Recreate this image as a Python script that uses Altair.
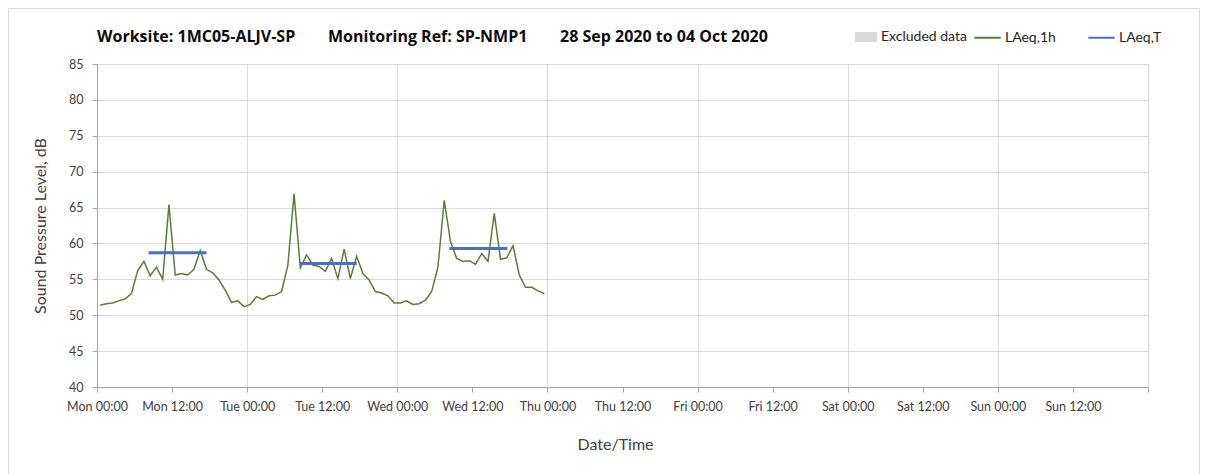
import altair as alt
import pandas as pd

# ---- data ----
laeq_1h_mon = [51.4, 51.6, 51.7, 52.0, 52.3, 53.0, 56.2, 57.5, 55.5, 56.7, 55.0, 65.4,
               55.6, 55.8, 55.6, 56.4, 59.0, 56.4, 55.9, 54.9, 53.5, 51.8, 52.0, 51.2]
laeq_1h_tue = [51.5, 52.6, 52.2, 52.7, 52.8, 53.3, 56.9, 66.9, 56.6, 58.4, 57.0, 56.8,
               56.1, 57.9, 55.1, 59.2, 55.1, 58.2, 55.8, 54.9, 53.3, 53.1, 52.7, 51.7]
laeq_1h_wed = [51.7, 52.0, 51.5, 51.6, 52.1, 53.3, 56.7, 66.0, 60.3, 57.9, 57.5, 57.6,
               57.1, 58.6, 57.5, 64.2, 57.8, 58.0, 59.7, 55.6, 53.9, 53.9, 53.4, 53.0]
first_hour = "2020-09-28T00:30:00"

laeq_t_start = ["2020-09-28T08:15:00", "2020-09-29T08:25:00", "2020-09-30T08:20:00"]
laeq_t_end = ["2020-09-28T17:30:00", "2020-09-29T17:30:00", "2020-09-30T17:35:00"]
laeq_t_values = [58.7, 57.2, 59.3]

y_ticks = [40, 45, 50, 55, 60, 65, 70, 75, 80, 85]
x_start = "2020-09-28T00:00:00"
x_end = "2020-10-05T00:00:00"
series_names = ["LAeq,1h", "LAeq,T"]
series_colors = ["#5a7d3a", "#4472c4"]
excluded_name = ["Excluded data"]
excluded_color = ["#d9d9d9"]

title_parts = ["Worksite: 1MC05-ALJV-SP", "Monitoring Ref: SP-NMP1",
               "28 Sep 2020 to 04 Oct 2020"]

# ---- tables ----
values_1h = laeq_1h_mon + laeq_1h_tue + laeq_1h_wed
times_1h = pd.date_range(first_hour, periods=len(values_1h), freq="h")
df_1h = pd.DataFrame({
    "time": times_1h.strftime("%Y-%m-%dT%H:%M:%S"),
    "value": values_1h,
    "series": series_names[0],
})
df_t = pd.DataFrame({
    "start": laeq_t_start,
    "end": laeq_t_end,
    "value": laeq_t_values,
    "series": series_names[1],
})
df_excl = alt.Data(values=[])

tick_times = pd.date_range(x_start, x_end, freq="12h")
tick_dt = [alt.DateTime(year=t.year, month=t.month, date=t.day, hours=t.hour)
           for t in tick_times]
ts0, ts1 = pd.Timestamp(x_start), pd.Timestamp(x_end)
x_domain = [alt.DateTime(year=ts0.year, month=ts0.month, date=ts0.day, hours=0),
            alt.DateTime(year=ts1.year, month=ts1.month, date=ts1.day, hours=0)]

FONT = "Lato"
W, H = 1051, 323

x_scale = alt.Scale(domain=x_domain)
y_scale = alt.Scale(domain=[40, 85], nice=False, zero=False)

x_axis = alt.Axis(
    values=tick_dt, format="%a %H:%M", title="Date/Time",
    labelExpr="date(datum.value) == 5 ? '' : datum.label",
    gridColor={"condition": {"test": "hours(datum.value) == 0", "value": "#d9d9d9"},
               "value": "rgba(0,0,0,0)"},
    labelAngle=0, labelOverlap=False, labelFlush=False,
)
y_axis = alt.Axis(values=y_ticks, title="Sound Pressure Level, dB", gridColor="#d9d9d9",
                  labelOverlap=False, tickCount=10)

color_scale = alt.Scale(domain=series_names, range=series_colors)

line_1h = alt.Chart(df_1h).mark_line(strokeWidth=1.5).encode(
    x=alt.X("time:T", scale=x_scale, axis=x_axis),
    y=alt.Y("value:Q", scale=y_scale, axis=y_axis),
    color=alt.Color("series:N", scale=color_scale, legend=alt.Legend(
        orient="none", legendX=876, legendY=-41, direction="horizontal", title=None,
        symbolType="stroke", symbolSize=700, symbolStrokeWidth=2,
        labelFont=FONT, labelFontSize=14, labelColor="#262626",
        columnPadding=28, labelOffset=3, padding=0,
    )),
)

rule_t = alt.Chart(df_t).mark_rule(strokeWidth=3).encode(
    x=alt.X("start:T", scale=x_scale, axis=x_axis), x2="end:T",
    y=alt.Y("value:Q", scale=y_scale, axis=y_axis),
    color=alt.Color("series:N", scale=color_scale),
)

excl = alt.Chart(df_excl).mark_rect().encode(
    x=alt.X("t0:T", scale=x_scale, axis=x_axis), x2="t1:T",
    y=alt.Y("lo:Q", scale=y_scale, axis=y_axis), y2="hi:Q",
    fill=alt.Fill("series:N", scale=alt.Scale(domain=excluded_name, range=excluded_color),
                  legend=alt.Legend(
                      orient="none", legendX=758, legendY=-38, title=None,
                      symbolType="M-1,-0.45H1V0.45H-1Z", symbolSize=484,
                      symbolStrokeWidth=0, labelFont=FONT, labelFontSize=14,
                      labelColor="#262626", labelOffset=4, padding=0,
                  )),
)

title_style = dict(align="left", baseline="middle", font="Open Sans", fontSize=16,
                   fontWeight="bold", color="#0d0d0d")
title_offsets = [0, 231, 463]
title_marks = [
    alt.Chart(pd.DataFrame({"t": [txt]})).mark_text(**title_style).encode(
        x=alt.value(dx), y=alt.value(-27), text="t:N")
    for txt, dx in zip(title_parts, title_offsets)
]

border = alt.Chart(pd.DataFrame({"a": [0]})).mark_rect(
    fill="rgba(0,0,0,0)", stroke="#d9d9d9", strokeWidth=1
).encode(
    x=alt.value(-88.5), x2=alt.value(W + 51.5), y=alt.value(-55.5), y2=alt.value(H + 120),
)

chart = alt.layer(border, excl, line_1h, rule_t, *title_marks).properties(
    width=W, height=H,
    autosize=alt.AutoSizeParams(type="none"),
    padding={"left": 89, "top": 56, "right": 52, "bottom": 87},
).configure_view(
    stroke="#a6a6a6", strokeWidth=1,
).configure_axis(
    domainColor="#a6a6a6", tickColor="#a6a6a6", tickSize=5,
    labelFont=FONT, labelFontSize=12.5, labelColor="#404040",
    titleFont=FONT, titleFontSize=16, titleFontWeight="normal", titleColor="#404040",
).configure_axisX(
    labelPadding=8, titlePadding=24, titleX=518,
).configure_axisY(
    labelPadding=9, titlePadding=20,
)

chart.save("out.html", embed_options={"renderer": "svg", "actions": False})
